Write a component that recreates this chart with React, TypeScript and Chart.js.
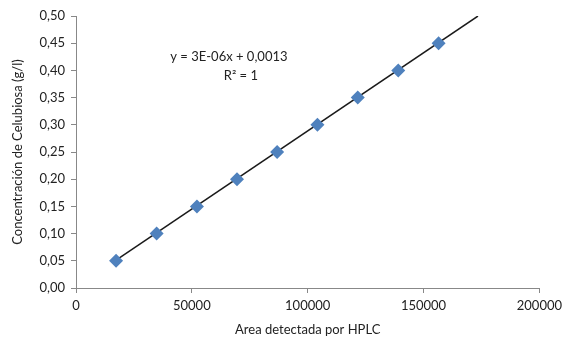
import React, { useEffect, useRef } from "react";
import { Chart, registerables } from "chart.js";

Chart.register(...registerables);

const areas = [17300, 34800, 52200, 69500, 86800, 104200, 121600, 139100, 156500];
const concentrations = [0.05, 0.1, 0.15, 0.2, 0.25, 0.3, 0.35, 0.4, 0.45];
const trendSlope = 2.874e-6;
const trendIntercept = 0.0013;
const trendXRange = [17300, 173500];
const equationLines = ["y = 3E-06x + 0,0013", "R² = 1"];
const xTitle = "Area detectada por HPLC";
const yTitle = "Concentración de Celubiosa (g/l)";

const FONT = "Lato, 'Open Sans', sans-serif";

export default function App() {
  const ref = useRef<HTMLCanvasElement | null>(null);
  useEffect(() => {
    if (!ref.current) return;
    const trendData = trendXRange.map((x) => ({ x, y: trendSlope * x + trendIntercept }));
    const textPlugin = {
      id: "eqText",
      afterDraw(chart: any) {
        const { ctx, scales } = chart;
        const cx = scales.x.getPixelForValue(66000);
        const y1 = scales.y.getPixelForValue(0.4246);
        const y2 = scales.y.getPixelForValue(0.3896);
        ctx.save();
        ctx.fillStyle = "#222";
        ctx.font = `13px ${FONT}`;
        ctx.textAlign = "center";
        ctx.textBaseline = "middle";
        ctx.fillText(equationLines[0], cx, y1);
        ctx.fillText(equationLines[1], cx + 12, y2);
        ctx.restore();
      },
    };
    const chart = new Chart(ref.current, {
      type: "scatter",
      data: {
        datasets: [
          {
            label: "Trend",
            data: trendData,
            showLine: true,
            borderColor: "#1a1a1a",
            borderWidth: 1.5,
            pointRadius: 0,
            order: 2,
          },
          {
            label: "Data",
            data: areas.map((a, i) => ({ x: a, y: concentrations[i] })),
            pointStyle: "rectRot",
            pointRadius: 7,
            backgroundColor: "#4F81BD",
            borderColor: "#4F81BD",
            borderWidth: 0,
            order: 1,
          },
        ],
      },
      options: {
        animation: false,
        responsive: false,
        maintainAspectRatio: false,
        layout: { padding: { top: 16, right: 27, left: 10, bottom: 8 } },
        plugins: { legend: { display: false }, tooltip: { enabled: false } },
        scales: {
          x: {
            type: "linear",
            min: 0,
            max: 200000,
            afterFit: (s: any) => { s.height = 50; },
            ticks: { stepSize: 50000, color: "#222", font: { family: FONT, size: 13 }, padding: 5, maxRotation: 0, callback: (v: any) => String(v) },
            grid: { drawOnChartArea: false, tickLength: 5, color: "#888" },
            border: { color: "#888" },
            title: { display: true, text: xTitle, color: "#222", font: { family: FONT, size: 13 }, padding: { top: 2, bottom: 0 } },
          },
          y: {
            type: "linear",
            min: 0,
            max: 0.5,
            afterFit: (s: any) => { s.width = 66; },
            ticks: { stepSize: 0.05, color: "#222", font: { family: FONT, size: 13 }, padding: 6, callback: (v: any) => Number(v).toFixed(2).replace(".", ",") },
            grid: { drawOnChartArea: false, tickLength: 5, color: "#888" },
            border: { color: "#888" },
            title: { display: true, text: yTitle, color: "#222", font: { family: FONT, size: 13 }, padding: { top: 0, bottom: 0 } },
          },
        },
      },
      plugins: [textPlugin],
    });
    return () => chart.destroy();
  }, []);
  return (
    <div style={{ position: "fixed", left: 0, top: 0, width: 567, height: 346, background: "#fff" }}>
      <canvas ref={ref} width={567} height={346} />
    </div>
  );
}
